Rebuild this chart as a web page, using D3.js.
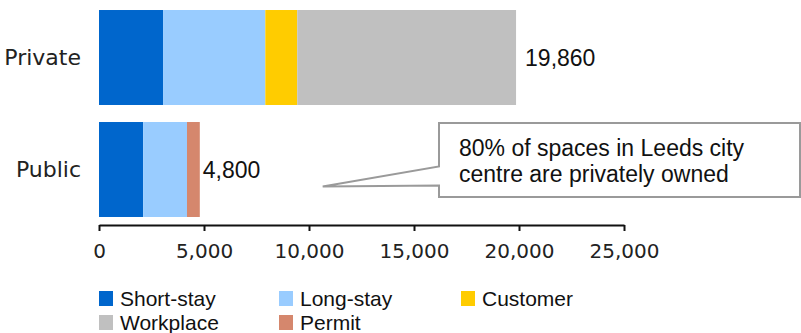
<!DOCTYPE html>
<html>
<head>
<meta charset="utf-8">
<script src="https://cdn.jsdelivr.net/npm/d3@7"></script>
<style>
  body { margin: 0; background: #fff; }
  svg { display: block; }
</style>
</head>
<body>
<svg class="chart" width="801" height="333"></svg>
<script>
// data
var sectors = ["Private", "Public"];
var series = ["Short-stay", "Long-stay", "Customer", "Workplace", "Permit"];
var shortStay = [3050, 2100];
var longStay = [4870, 2090];
var customer = [1520, 0];
var workplace = [10420, 0];
var permit = [0, 610];
var totalLabels = ["19,860", "4,800"];
var xTicks = [0, 5000, 10000, 15000, 20000, 25000];
var noteLines = ["80% of spaces in Leeds city", "centre are privately owned"];

var colors = ["#0066CC", "#99CCFF", "#FFCC00", "#C0C0C0", "#D5876D"];
var labelGap = [9, 3]; // gap between bar end and its total label

var svg = d3.select("svg.chart");

// build rows for the stack
var rows = sectors.map((s, i) => ({
    sector: s,
    "Short-stay": shortStay[i],
    "Long-stay": longStay[i],
    "Customer": customer[i],
    "Workplace": workplace[i],
    "Permit": permit[i]
}));

var stacked = d3.stack().keys(series)(rows);

var x = d3.scaleLinear().domain([0, 25000]).range([99, 624]);
var y = d3.scaleBand().domain(sectors).range([1.5, 225.5])
    .paddingInner(0.152).paddingOuter(0.076);
var color = d3.scaleOrdinal().domain(series).range(colors);

// bars
svg.append("g")
    .selectAll("g.layer")
    .data(stacked)
    .enter()
    .append("g")
        .attr("class", "layer")
        .attr("fill", d => color(d.key))
    .selectAll("rect")
    .data(d => d)
    .enter()
    .append("rect")
        .attr("x", d => x(d[0]))
        .attr("width", d => x(d[1]) - x(d[0]))
        .attr("y", d => y(d.data.sector))
        .attr("height", y.bandwidth());

// total labels at end of bars
svg.append("g")
    .selectAll("text")
    .data(rows)
    .enter()
    .append("text")
        .attr("x", (d, i) => x(d3.sum(series, k => d[k])) + labelGap[i])
        .attr("y", d => y(d.sector) + y.bandwidth() / 2 + 8)
        .style("font-family", "'Liberation Sans', Arial, sans-serif")
        .style("font-size", "23px")
        .attr("fill", "#111")
        .text((d, i) => totalLabels[i]);

// category labels
svg.append("g")
    .selectAll("text")
    .data(sectors)
    .enter()
    .append("text")
        .attr("x", 81)
        .attr("y", d => y(d) + y.bandwidth() / 2 + 7.5)
        .attr("text-anchor", "end")
        .style("font-family", "'DejaVu Sans', Verdana, sans-serif")
        .style("font-size", "22px")
        .attr("fill", "#222")
        .text(d => d);

// x axis
var xAxis = svg.append("g")
    .attr("transform", "translate(0,225)")
    .call(d3.axisBottom(x).tickValues(xTicks).tickSize(6).tickSizeOuter(0)
        .tickFormat(d3.format(",")));
xAxis.select(".domain").attr("stroke", "#111").attr("stroke-width", 2);
xAxis.selectAll(".tick line").attr("stroke", "#111").attr("stroke-width", 2);
xAxis.selectAll(".tick text")
    .attr("y", 19)
    .style("font-family", "'DejaVu Sans', Verdana, sans-serif")
    .style("font-size", "20px")
    .attr("fill", "#222");

// callout box with pointer
var box = {x0: 439, y0: 123, x1: 800, y1: 197};
svg.append("path")
    .attr("d", `M${box.x0},${box.y0} L${box.x1},${box.y0} L${box.x1},${box.y1} L${box.x0},${box.y1}
        L${box.x0},185.5 L${x(10700) - 1},186.5 L${box.x0},166.5 Z`)
    .attr("fill", "#fff")
    .attr("stroke", "#9a9a9a")
    .attr("stroke-width", 2);

svg.append("g")
    .selectAll("text")
    .data(noteLines)
    .enter()
    .append("text")
        .attr("x", 459)
        .attr("y", (d, i) => 156 + i * 25.5)
        .style("font-family", "'Liberation Sans', Arial, sans-serif")
        .style("font-size", "23px")
        .attr("fill", "#111")
        .text(d => d);

// legend
var legendPos = [[99, 291], [279, 291], [461, 291], [99, 315], [279, 315]];
var legend = svg.append("g")
    .selectAll("g.item")
    .data(series)
    .enter()
    .append("g")
        .attr("class", "item")
        .attr("transform", (d, i) => `translate(${legendPos[i][0]},${legendPos[i][1]})`);

legend.append("rect")
    .attr("width", 14)
    .attr("height", 15)
    .attr("fill", d => color(d));

legend.append("text")
    .attr("x", 21)
    .attr("y", 15)
    .style("font-family", "'Liberation Sans', Arial, sans-serif")
    .style("font-size", "21px")
    .attr("fill", "#111")
    .text(d => d);
</script>
</body>
</html>
